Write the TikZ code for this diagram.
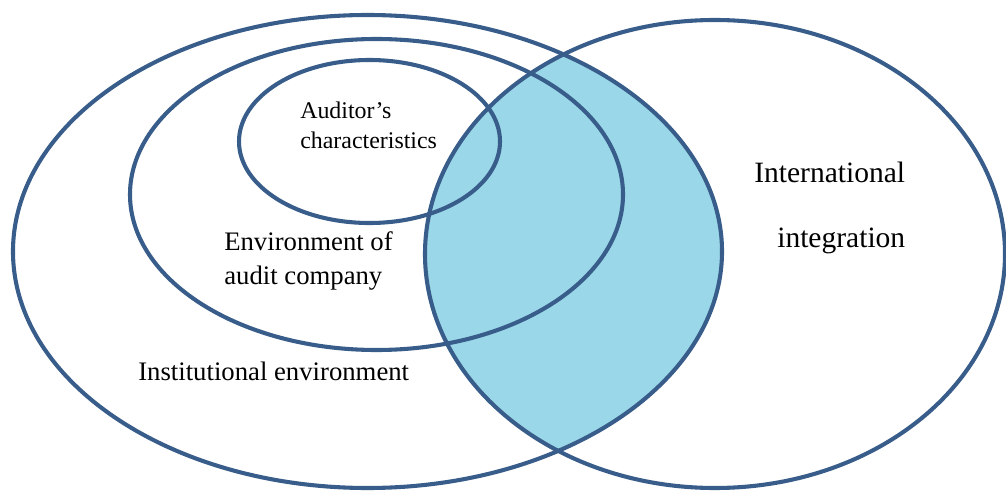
\documentclass[tikz,border=0pt]{standalone}
\usepackage{xcolor}
\usepackage{fontspec}
\setmainfont{Liberation Serif}
\usepackage{tikz}
\definecolor{steelblue}{HTML}{385D8A}
\definecolor{lightaqua}{HTML}{9AD7E8}

\begin{document}
\begin{tikzpicture}[x=0.025cm, y=-0.025cm,
    ring/.style={steelblue, line width=2.9pt},
    lbl/.style={anchor=base west, inner sep=0pt, align=left}]
  \useasboundingbox (0,0) rectangle (1006,491);
  \coordinate (inst) at (367.5,251.5);
  \coordinate (intl) at (715,254);
  \coordinate (firm) at (376.5,194.5);
  \coordinate (audr) at (369.5,141.5);
  % shaded overlap of the two big ellipses
  \begin{scope}
    \clip (inst) ellipse (354.5 and 236.5);
    \fill[lightaqua] (intl) ellipse (290 and 234);
  \end{scope}
  \draw[ring] (inst) ellipse (354.5 and 236.5);
  \draw[ring] (intl) ellipse (290 and 234);
  \draw[ring] (firm) ellipse (246.5 and 155.5);
  \draw[ring] (audr) ellipse (130.5 and 81.5);
  % labels
  \node[lbl, font=\fontsize{17}{20}\selectfont] (auditor) at (300,119) {Auditor’s};
  \node[lbl, font=\fontsize{17}{20}\selectfont] (traits) at (300,149) {characteristics};
  \node[lbl, font=\fontsize{19}{22}\selectfont] (envfirm) at (224,251) {Environment of};
  \node[lbl, font=\fontsize{19}{22}\selectfont] (company) at (224,285) {audit company};
  \node[lbl, font=\fontsize{19}{22}\selectfont] (institut) at (138,380) {Institutional environment};
  \node[lbl, font=\fontsize{21}{24}\selectfont] (intern) at (754,183) {International};
  \node[lbl, font=\fontsize{21}{24}\selectfont] (integr) at (777,248) {integration};
\end{tikzpicture}
\end{document}
